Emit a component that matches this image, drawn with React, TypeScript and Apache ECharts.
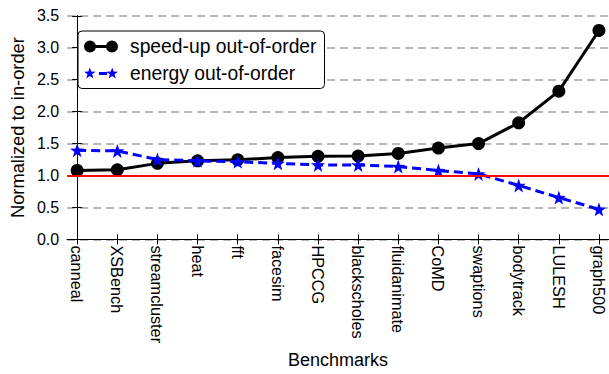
import React, { useEffect, useRef } from "react";
import * as echarts from "echarts";

const categories = [
  "canneal", "XSBench", "streamcluster", "heat", "fft", "facesim", "HPCCG",
  "blackscholes", "fluidanimate", "CoMD", "swaptions", "bodytrack", "LULESH", "graph500",
];
const speedup = [1.08, 1.09, 1.19, 1.23, 1.245, 1.28, 1.3, 1.305, 1.345, 1.43, 1.5, 1.825, 2.32, 3.27];
const energy = [1.395, 1.385, 1.25, 1.23, 1.215, 1.19, 1.165, 1.165, 1.14, 1.077, 1.025, 0.845, 0.655, 0.47];
const yTicks = [0, 0.5, 1, 1.5, 2, 2.5, 3, 3.5];
const referenceLevel = 1.0;

const FONT = "Liberation Sans";

const STAR =
  "path://M6,0 L7.41,4.06 L11.71,4.15 L8.28,6.74 L9.53,10.85 L6,8.4 L2.47,10.85 L3.72,6.74 L0.29,4.15 L4.59,4.06 Z";
const LEG_CIRCLES =
  "path://M0,6 a6,6 0 1,1 12,0 a6,6 0 1,1 -12,0 Z M22,6 a6,6 0 1,1 12,0 a6,6 0 1,1 -12,0 Z M6,4.5 H28 V7.5 H6 Z";
const LEG_STARS =
  "path://M6,0 L7.41,4.06 L11.71,4.15 L8.28,6.74 L9.53,10.85 L6,8.4 L2.47,10.85 L3.72,6.74 L0.29,4.15 L4.59,4.06 Z " +
  "M28,0 L29.41,4.06 L33.71,4.15 L30.28,6.74 L31.53,10.85 L28,8.4 L24.47,10.85 L25.72,6.74 L22.29,4.15 L26.59,4.06 Z " +
  "M15,4.5 H23 V7.5 H15 Z";

export default function App() {
  const ref = useRef<HTMLDivElement>(null);
  useEffect(() => {
    if (!ref.current) return;
    const chart = echarts.init(ref.current, undefined, { renderer: "svg" });
    const idx = categories.map((_, i) => i);
    chart.setOption({
      animation: false,
      backgroundColor: "#fff",
      textStyle: { fontFamily: FONT },
      grid: { left: 62.7, top: 15.8, width: 547.4, height: 227.5 },
      legend: {
        left: 78,
        top: 31,
        orient: "vertical",
        selectedMode: false,
        backgroundColor: "#fff",
        borderColor: "#000",
        borderWidth: 1,
        borderRadius: 4,
        padding: [6, 8, 6, 6],
        itemGap: 7.5,
        itemWidth: 34,
        itemHeight: 12,
        textStyle: { fontFamily: FONT, fontSize: 19.3, color: "#000", padding: [0, 0, 0, 7] },
        data: [
          { name: "speed-up out-of-order", icon: LEG_CIRCLES, itemStyle: { color: "#000" } },
          { name: "energy out-of-order", icon: LEG_STARS, itemStyle: { color: "#0000ff" } },
        ],
      },
      xAxis: [
        {
          type: "value",
          min: -0.25,
          max: 13.25,
          name: "Benchmarks",
          nameLocation: "middle",
          nameGap: 109,
          nameTextStyle: { fontFamily: FONT, fontSize: 18, color: "#000", verticalAlign: "top" },
          axisLine: { lineStyle: { color: "#000", width: 1 } },
          axisTick: { show: true, inside: true, length: 5, customValues: idx, lineStyle: { color: "#000" } },
          axisLabel: {
            customValues: idx,
            rotate: -90,
            margin: 6,
            fontFamily: FONT,
            fontSize: 16.3,
            color: "#000",
            formatter: (v: number) => categories[Math.round(v)] ?? "",
          },
          splitLine: { show: false },
        },
        {
          type: "value",
          position: "top",
          min: -0.25,
          max: 13.25,
          axisLine: { lineStyle: { color: "#000", width: 1 } },
          axisTick: { show: true, inside: true, length: 5, customValues: idx, lineStyle: { color: "#000" } },
          axisLabel: { show: false },
          splitLine: { show: false },
        },
      ],
      yAxis: [
        {
          type: "value",
          min: 0,
          max: 3.5,
          interval: 0.5,
          name: "Normalized to in-order",
          nameLocation: "middle",
          nameGap: 34,
          nameTextStyle: { fontFamily: FONT, fontSize: 18.3, color: "#000" },
          axisLine: { show: true, lineStyle: { color: "#000", width: 1 } },
          axisTick: { show: true, inside: true, length: 5, lineStyle: { color: "#000" } },
          axisLabel: {
            margin: 8,
            fontFamily: FONT,
            fontSize: 16,
            color: "#000",
            formatter: (v: number) => (yTicks.includes(v) ? v.toFixed(1) : ""),
          },
          splitLine: { show: true, lineStyle: { color: "#a0a0a0", width: 1.5, type: [8, 5] } },
        },
        {
          type: "value",
          position: "right",
          min: 0,
          max: 3.5,
          interval: 0.5,
          axisLine: { show: true, lineStyle: { color: "#000", width: 1 } },
          axisTick: { show: true, inside: true, length: 5, lineStyle: { color: "#000" } },
          axisLabel: { show: false },
          splitLine: { show: false },
        },
      ],
      series: [
        {
          name: "ref",
          type: "line",
          data: [],
          z: 1,
          markLine: {
            silent: true,
            symbol: ["none", "none"],
            label: { show: false },
            lineStyle: { color: "#ff0000", width: 2, type: "solid" },
            data: [{ yAxis: referenceLevel }],
          },
        },
        {
          name: "speed-up out-of-order",
          type: "line",
          z: 3,
          data: speedup.map((v, i) => [i, v]),
          symbol: "circle",
          symbolSize: 13,
          itemStyle: { color: "#000" },
          lineStyle: { color: "#000", width: 3 },
        },
        {
          name: "energy out-of-order",
          type: "line",
          z: 4,
          data: energy.map((v, i) => [i, v]),
          symbol: STAR,
          symbolSize: 14,
          itemStyle: { color: "#0000ff" },
          lineStyle: { color: "#0000ff", width: 3, type: [9, 5] },
        },
      ],
    });
    return () => chart.dispose();
  }, []);
  return (
    <div
      ref={ref}
      style={{ position: "fixed", left: 0, top: 0, width: 609, height: 374 }}
    />
  );
}
